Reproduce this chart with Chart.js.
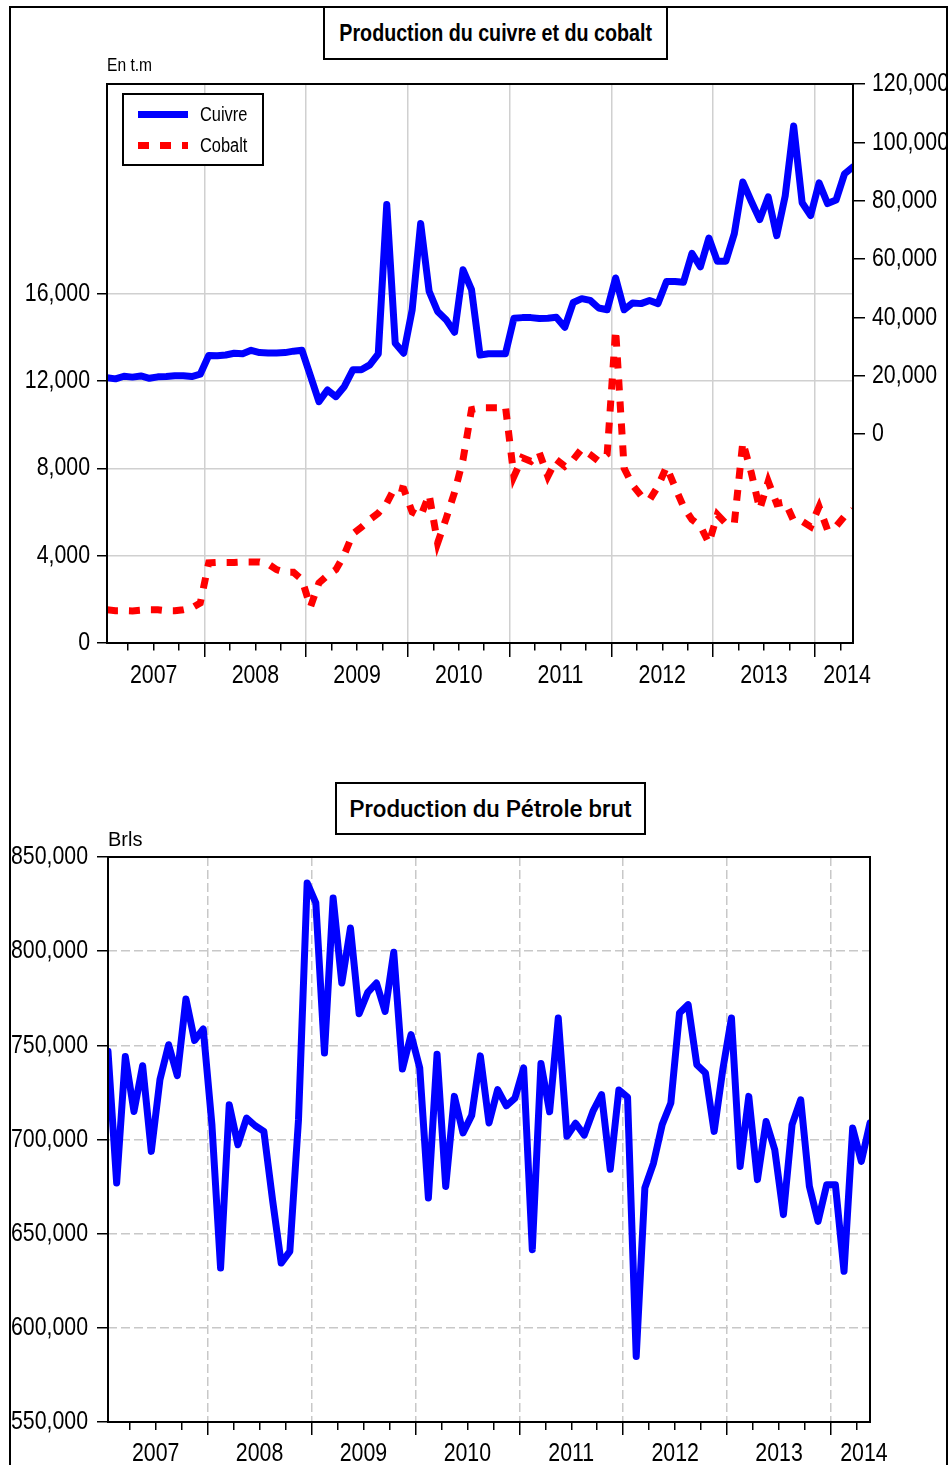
<!DOCTYPE html>
<html>
<head>
<meta charset="utf-8">
<script src="https://cdn.jsdelivr.net/npm/chart.js@4.4.1/dist/chart.umd.min.js"></script>
<style>
  body { margin: 0; background: #fff; width: 952px; height: 1465px; overflow: hidden; position: relative;
         font-family: 'Liberation Sans', Arial, sans-serif; color: #000; }
  canvas { position: absolute; left: 0; }
  #copperChart { top: 0; }
  #oilChart { top: 760px; }
  #frame { position: absolute; left: 9px; top: 6px; width: 939px; height: 1520px; border: 2px solid #000;
           box-sizing: border-box; pointer-events: none; }
  .title { position: absolute; border: 2px solid #000; box-sizing: border-box; background: #fff;
           display: flex; align-items: center; justify-content: center; white-space: nowrap; }
  .narrow { display: inline-block; transform: scaleX(0.82); }
  #title1 { left: 323px; top: 6px; width: 345px; height: 54px; font-weight: bold; font-size: 24px; }
  #title2 { left: 335px; top: 782px; width: 311px; height: 53px; font-family: Roboto, 'Liberation Sans', sans-serif;
            font-weight: 500; font-size: 24px; }
  .unit { position: absolute; line-height: 1; white-space: nowrap; transform-origin: left center; }
  #unit1 { left: 107px; top: 55px; font-size: 19px; transform: scaleX(0.82); }
  #unit2 { left: 108px; top: 829px; font-size: 20px; }
  #legend { position: absolute; left: 122px; top: 93px; width: 142px; height: 73px; border: 2px solid #000;
            box-sizing: border-box; background: #fff; }
  .item { position: absolute; left: 14px; height: 30px; font-size: 20px; line-height: 30px; }
  .item span { position: absolute; left: 62px; top: 0; transform: scaleX(0.82); transform-origin: left center; }
  .swatch { position: absolute; left: 0; top: 12px; width: 50px; height: 7px; }
  #itemCu { top: 4px; }
  #itemCo { top: 35px; }
  #itemCu .swatch { background: #0000ff; }
  #itemCo .swatch { background: repeating-linear-gradient(to right, #ff0000 0 11px, transparent 11px 22px); }
</style>
</head>
<body>
<canvas id="copperChart" width="946" height="700"></canvas>
<canvas id="oilChart" width="946" height="705"></canvas>
<div id="frame"></div>
<div class="title" id="title1"><span class="narrow">Production du cuivre et du cobalt</span></div>
<div class="title" id="title2">Production du Pétrole brut</div>
<div class="unit" id="unit1">En t.m</div>
<div class="unit" id="unit2">Brls</div>
<div id="legend">
  <div class="item" id="itemCu"><div class="swatch"></div><span>Cuivre</span></div>
  <div class="item" id="itemCo"><div class="swatch"></div><span>Cobalt</span></div>
</div>
<script>
// monthly series, 2007M01 .. 2014M05
const yearLabels = ['2007', '2008', '2009', '2010', '2011', '2012', '2013', '2014'];
const lastYearMonths = 5;

// copper, t (right axis)
const cuivre = [
  19300, 18900, 19800, 19500, 19900, 19100, 19600, 19700, 20000, 20000, 19700, 20500,
  26900, 26800, 27100, 27700, 27500, 28700, 27900, 27800, 27800, 27900, 28400, 28700,
  19900, 11100, 15100, 12800, 16300, 22000, 22000, 23700, 27500, 78700, 31100, 27700,
  42600, 72200, 48900, 42000, 39200, 34900, 56300, 49500, 27100, 27500, 27500, 27500,
  39700, 39900, 39900, 39600, 39700, 40000, 36600, 45100, 46400, 45800, 43200, 42600,
  53500, 42600, 44900, 44700, 45800, 44700, 52300, 52300, 52000, 61900, 57300, 67200,
  59200, 59200, 68700, 86400, 79800, 73500, 81300, 68000, 81600, 105600, 79300, 74900,
  86100, 79000, 80200, 89200, 91600
];

// cobalt, t (left axis)
const cobalt = [
  1525, 1480, 1480, 1470, 1500, 1525, 1525, 1480, 1480, 1525, 1600, 1830,
  3670, 3690, 3690, 3690, 3710, 3710, 3710, 3620, 3360, 3240, 3240, 2900,
  1650, 2750, 3100, 3360, 4050, 5000, 5300, 5650, 5950, 6400, 7150, 7050,
  6000, 5800, 6800, 4580, 5700, 6900, 8400, 10690, 10770, 10770, 10770, 10840,
  7630, 8480, 8320, 8710, 7630, 8400, 8090, 8400, 8890, 8630, 8320, 8650,
  14350, 8000, 7230, 6750, 6550, 7180, 8070, 7140, 6250, 5650, 5360, 4570,
  5880, 5480, 5480, 9200, 7800, 6120, 7400, 6380, 6460, 5600, 5570, 5330,
  6240, 5170, 5340, 5800, 6100
];

// crude oil, barrels
const petrole = [
  746800, 676900, 744100, 714900, 739200, 693700, 731800, 750300, 733900, 774600, 752600, 758700,
  707900, 631800, 718500, 697200, 711400, 707300, 704300, 668000, 634400, 640600, 710500, 836200,
  825600, 745900, 828200, 783100, 812300, 766800, 778100, 783100, 768000, 799400, 737400, 755700,
  738000, 668900, 745300, 675100, 722900, 703500, 712800, 744400, 708800, 726500, 717900, 722000,
  738000, 641500, 740400, 714700, 764500, 701700, 708600, 702300, 714900, 723800, 684200, 726300,
  722500, 584800, 674300, 687500, 707900, 719400, 767200, 771600, 739700, 735300, 704300, 737100,
  764500, 685700, 722900, 678700, 709600, 694600, 660100, 707900, 721100, 675100, 656500, 676000,
  676000, 630000, 706100, 688400, 708800
];

const cobaltTicks = [0, 4000, 8000, 12000, 16000];
const cuivreTicks = [0, 20000, 40000, 60000, 80000, 100000, 120000];
const petroleTicks = [550000, 600000, 650000, 700000, 750000, 800000, 850000];

const months = [];
yearLabels.forEach((y, k) => {
  const n = k === yearLabels.length - 1 ? lastYearMonths : 12;
  for (let m = 1; m <= n; m++) months.push(y + 'M' + String(m).padStart(2, '0'));
});
const lastIndex = months.length - 1;

// x ticks: quarter boundaries get a mark, years labelled mid-year
const lastLabelPos = 87.3;
const xTicks = [];
const xLabelAt = new Map();
for (let v = 2.5; v < lastIndex; v += 3) xTicks.push(v);
yearLabels.forEach((y, k) => {
  const first = k * 12;
  const pos = first + 11 <= lastIndex ? first + 5.5 : lastLabelPos;
  xLabelAt.set(pos, y);
  if (!xTicks.includes(pos)) xTicks.push(pos);
});
xTicks.sort((a, b) => a - b);

const isYearEdge = v => (v + 0.5) % 12 === 0;
const isQuarter = v => (v + 0.5) % 3 === 0;
const clear = 'rgba(0,0,0,0)';
const tickFont = { family: "'Liberation Sans', Arial, sans-serif", size: 26 };
const fmt = v => Number(v).toLocaleString('en-US');

// no Arial Narrow here: squeeze canvas text horizontally instead
function narrowText(ctx) {
  const fill = ctx.fillText;
  ctx.fillText = function (text, x, y) {
    this.save();
    this.translate(x, y);
    this.scale(0.82, 1);
    fill.call(this, text, 0, 0);
    this.restore();
  };
  return ctx;
}

function monthAxis(o) {
  return {
    type: 'linear', position: 'bottom', min: 0, max: lastIndex,
    afterBuildTicks: axis => { axis.ticks = xTicks.map(v => ({ value: v })); },
    afterFit: axis => { axis.height = o.height; },
    border: { display: false, dash: o.dash },
    grid: {
      color: c => c.tick && isYearEdge(c.tick.value) ? o.gridColor : clear,
      lineWidth: 1.5,
      tickLength: o.tickLong,
      tickWidth: 1.5,
      tickColor: c => c.tick && isQuarter(c.tick.value) ? '#000' : clear,
      tickBorderDash: c => c.tick && isYearEdge(c.tick.value) ? [] : [o.tickShort, 60]
    },
    ticks: {
      autoSkip: false, maxRotation: 0, minRotation: 0, padding: o.pad, color: '#000', font: tickFont,
      callback: v => xLabelAt.get(v) || ''
    }
  };
}

function valueAxis(o) {
  return {
    type: 'linear', position: o.position, min: o.min, max: o.max,
    afterBuildTicks: axis => { axis.ticks = o.ticks.map(v => ({ value: v })); },
    afterFit: axis => { axis.width = o.width; },
    border: { display: false, dash: o.dash },
    grid: {
      drawOnChartArea: o.grid,
      color: c => c.tick && c.tick.value > o.ticks[0] && c.tick.value < o.max ? o.gridColor : clear,
      lineWidth: 1.5,
      tickLength: o.tickLength,
      tickWidth: 1.5,
      tickColor: '#000'
    },
    ticks: { padding: o.padding, color: '#000', font: tickFont, callback: fmt }
  };
}

const framePlugin = {
  id: 'plotFrame',
  afterDatasetsDraw(chart) {
    const { ctx, chartArea: a } = chart;
    ctx.save();
    ctx.strokeStyle = '#000';
    ctx.lineWidth = 2;
    ctx.strokeRect(a.left, a.top, a.right - a.left, a.bottom - a.top);
    ctx.restore();
  }
};

const commonOptions = {
  responsive: false,
  animation: false,
  plugins: { legend: { display: false }, tooltip: { enabled: false } },
  elements: { point: { radius: 0 }, line: { tension: 0 } }
};

new Chart(narrowText(document.getElementById('copperChart').getContext('2d')), {
  type: 'line',
  data: {
    datasets: [
      {
        label: 'Cuivre',
        data: cuivre.map((v, i) => ({ x: i, y: v })),
        yAxisID: 'y1',
        borderColor: '#0000ff',
        borderWidth: 7,
        borderJoinStyle: 'round',
        borderCapStyle: 'round'
      },
      {
        label: 'Cobalt',
        data: cobalt.map((v, i) => ({ x: i, y: v })),
        yAxisID: 'y',
        borderColor: '#ff0000',
        borderWidth: 7,
        borderDash: [11, 11],
        borderCapStyle: 'butt'
      }
    ]
  },
  options: Object.assign({}, commonOptions, {
    layout: { padding: { top: 84, left: 0, right: 0, bottom: 0 } },
    scales: {
      x: monthAxis({ height: 57, tickLong: 14, tickShort: 7.5, pad: 3, gridColor: '#d0d0d0', dash: [] }),
      y: valueAxis({ position: 'left', min: 0, max: 25600, ticks: cobaltTicks, width: 107, grid: true,
                     gridColor: '#d0d0d0', tickLength: 10, padding: 7, dash: [] }),
      y1: valueAxis({ position: 'right', min: -71660, max: 120000, ticks: cuivreTicks, width: 93, grid: false,
                      gridColor: clear, tickLength: 12, padding: 7, dash: [] })
    }
  }),
  plugins: [framePlugin]
});

new Chart(narrowText(document.getElementById('oilChart').getContext('2d')), {
  type: 'line',
  data: {
    datasets: [
      {
        label: 'Pétrole brut',
        data: petrole.map((v, i) => ({ x: i, y: v })),
        borderColor: '#0000ff',
        borderWidth: 7,
        borderJoinStyle: 'round',
        borderCapStyle: 'round'
      }
    ]
  },
  options: Object.assign({}, commonOptions, {
    layout: { padding: { top: 97, left: 0, right: 76, bottom: 0 } },
    scales: {
      x: monthAxis({ height: 43, tickLong: 13, tickShort: 8, pad: 3, gridColor: '#c8c8c8', dash: [9, 4] }),
      y: valueAxis({ position: 'left', min: 550000, max: 850000, ticks: petroleTicks, width: 108, grid: true,
                     gridColor: '#c8c8c8', tickLength: 11, padding: 9, dash: [9, 4] })
    }
  }),
  plugins: [framePlugin]
});
</script>
</body>
</html>
